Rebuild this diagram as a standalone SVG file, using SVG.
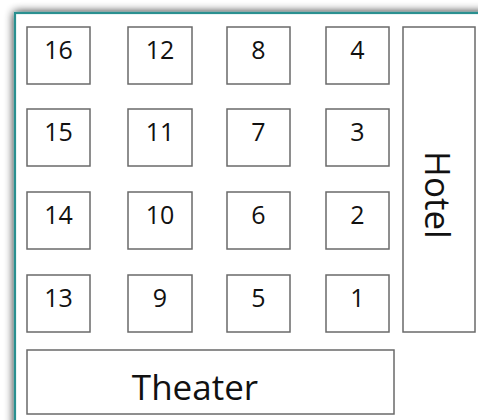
<svg xmlns="http://www.w3.org/2000/svg" width="478" height="420" viewBox="0 0 478 420">
  <defs>
    <filter id="sh" x="-10%" y="-10%" width="130%" height="130%">
      <feGaussianBlur in="SourceAlpha" stdDeviation="5"/>
      <feComponentTransfer><feFuncA type="linear" slope="0.9"/></feComponentTransfer>
      <feMerge><feMergeNode/><feMergeNode in="SourceGraphic"/></feMerge>
    </filter>
  </defs>
  <style>
    .blk { fill: #ffffff; stroke: #6a6a6a; stroke-width: 1.5; }
    .num { font-family: "Open Sans", "Noto Sans", sans-serif; font-size: 25px; fill: #111; text-anchor: middle; }
    .big { font-family: "Open Sans", "Noto Sans", sans-serif; font-size: 35px; fill: #111; text-anchor: middle; }
  </style>
  <rect x="0" y="0" width="478" height="420" fill="#ffffff"/>
  <rect id="frame" x="15" y="13" width="480" height="430" fill="#ffffff" stroke="#2a9090" stroke-width="2.2" filter="url(#sh)"/>

  <g id="b16"><rect class="blk" x="27" y="27" width="63" height="57"/><text class="num" x="58.5" y="59">16</text></g>
  <g id="b12"><rect class="blk" x="128" y="27" width="64" height="57"/><text class="num" x="160" y="59">12</text></g>
  <g id="b8"><rect class="blk" x="227" y="27" width="63" height="57"/><text class="num" x="258.5" y="59">8</text></g>
  <g id="b4"><rect class="blk" x="326" y="27" width="63" height="57"/><text class="num" x="357.5" y="59">4</text></g>

  <g id="b15"><rect class="blk" x="27" y="109" width="63" height="57"/><text class="num" x="58.5" y="141">15</text></g>
  <g id="b11"><rect class="blk" x="128" y="109" width="64" height="57"/><text class="num" x="160" y="141">11</text></g>
  <g id="b7"><rect class="blk" x="227" y="109" width="63" height="57"/><text class="num" x="258.5" y="141">7</text></g>
  <g id="b3"><rect class="blk" x="326" y="109" width="63" height="57"/><text class="num" x="357.5" y="141">3</text></g>

  <g id="b14"><rect class="blk" x="27" y="192" width="63" height="57"/><text class="num" x="58.5" y="224">14</text></g>
  <g id="b10"><rect class="blk" x="128" y="192" width="64" height="57"/><text class="num" x="160" y="224">10</text></g>
  <g id="b6"><rect class="blk" x="227" y="192" width="63" height="57"/><text class="num" x="258.5" y="224">6</text></g>
  <g id="b2"><rect class="blk" x="326" y="192" width="63" height="57"/><text class="num" x="357.5" y="224">2</text></g>

  <g id="b13"><rect class="blk" x="27" y="275" width="63" height="57"/><text class="num" x="58.5" y="307">13</text></g>
  <g id="b9"><rect class="blk" x="128" y="275" width="64" height="57"/><text class="num" x="160" y="307">9</text></g>
  <g id="b5"><rect class="blk" x="227" y="275" width="63" height="57"/><text class="num" x="258.5" y="307">5</text></g>
  <g id="b1"><rect class="blk" x="326" y="275" width="63" height="57"/><text class="num" x="357.5" y="307">1</text></g>

  <g id="hotel"><rect class="blk" x="403" y="27" width="72" height="305"/><text class="big" transform="translate(425 195) rotate(90)" x="0" y="0">Hotel</text></g>
  <g id="theater"><rect class="blk" x="27" y="350" width="367" height="64"/><text class="big" x="195" y="400">Theater</text></g>
  <g id="connectors"/>
</svg>
